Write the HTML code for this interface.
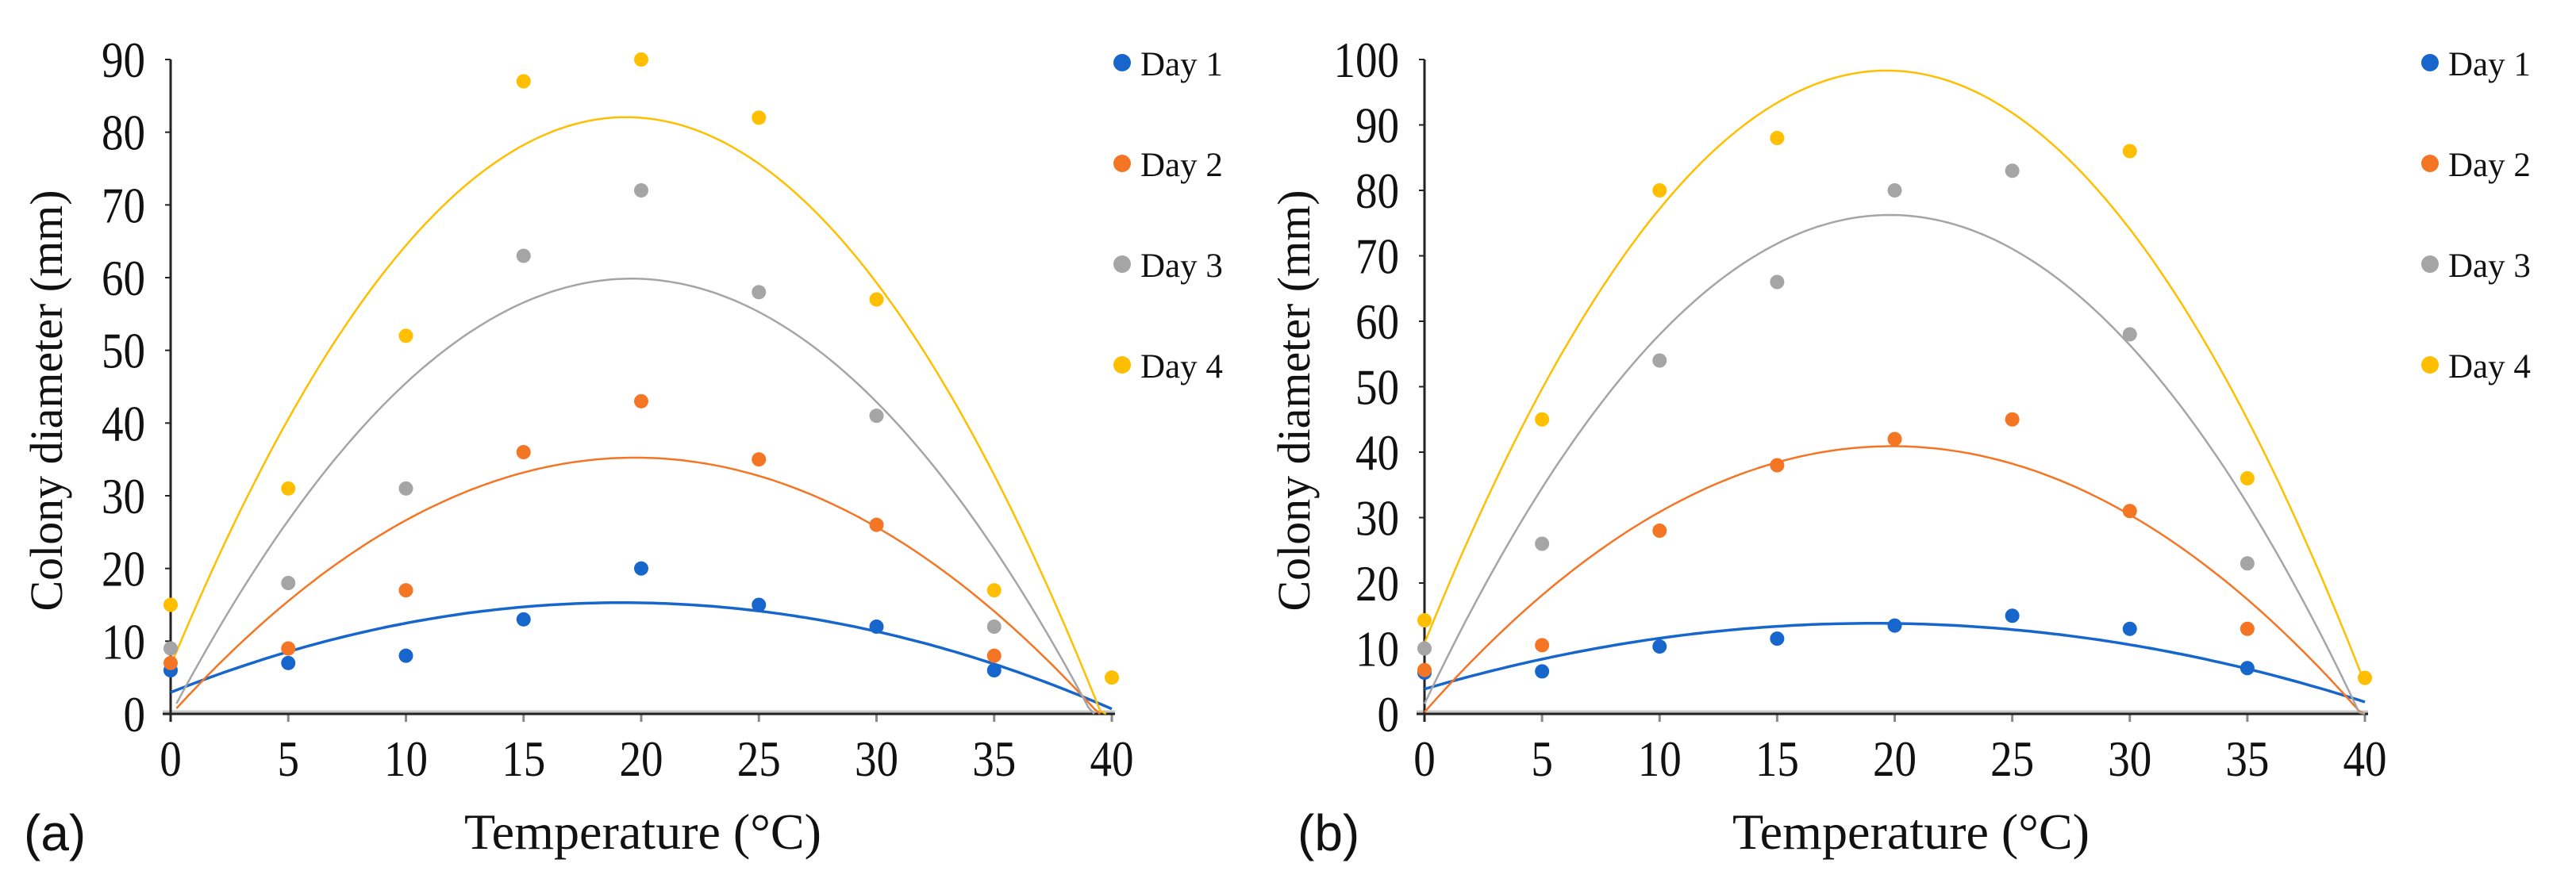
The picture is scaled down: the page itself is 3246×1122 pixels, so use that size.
<!DOCTYPE html>
<html><head><meta charset="utf-8"><style>
html,body{margin:0;padding:0;background:#fff;}
svg{display:block;}
text{font-family:"Liberation Serif",serif;fill:#111;}
</style></head><body>
<svg id="fig" width="3246" height="1122" viewBox="0 0 3246 1122" xmlns="http://www.w3.org/2000/svg"></svg>
<script>
const temps = [0,5,10,15,20,25,30,35,40];
const dayLabels = ["Day 1","Day 2","Day 3","Day 4"];
const dayColors = ["#1766cc","#f47524","#a5a5a5","#ffbf00"];
// Panel (a)
const aDay1 = [6,7,8,13,20,15,12,6,0];
const aDay2 = [7,9,17,36,43,35,26,8,0];
const aDay3 = [9,18,31,63,72,58,41,12,0];
const aDay4 = [15,31,52,87,90,82,57,17,5];
const aYTicks = [0,10,20,30,40,50,60,70,80,90];
// Panel (b)
const bDay1 = [6.3,6.5,10.3,11.5,13.5,15,13,7,0];
const bDay2 = [6.7,10.5,28,38,42,45,31,13,0];
const bDay3 = [10,26,54,66,80,83,58,23,0];
const bDay4 = [14.3,45,80,88,null,null,86,36,5.5];
const bYTicks = [0,10,20,30,40,50,60,70,80,90,100];
const xTicks = [0,5,10,15,20,25,30,35,40];

const NS="http://www.w3.org/2000/svg";
const svg=document.getElementById('fig');
function mk(tag,attrs,parent){const e=document.createElementNS(NS,tag);for(const k in attrs)e.setAttribute(k,attrs[k]);(parent||svg).appendChild(e);return e;}

function fit2(xs,ys){
  let S=[0,0,0,0,0],T=[0,0,0];
  xs.forEach((x,i)=>{const y=ys[i];if(y==null)return;let p=1;for(let k=0;k<5;k++){S[k]+=p;if(k<3)T[k]+=p*y;p*=x;}});
  const M=[[S[0],S[1],S[2],T[0]],[S[1],S[2],S[3],T[1]],[S[2],S[3],S[4],T[2]]];
  for(let i=0;i<3;i++){for(let j=i+1;j<3;j++){const f=M[j][i]/M[i][i];for(let k=i;k<4;k++)M[j][k]-=f*M[i][k];}}
  const c=[0,0,0];for(let i=2;i>=0;i--){let s=M[i][3];for(let k=i+1;k<3;k++)s-=M[i][k]*c[k];c[i]=s/M[i][i];}
  return c;
}

function panel(cfg){
  const g=mk('g',{});
  
  
  const X=v=>cfg.x0+(v/40)*(cfg.x1-cfg.x0);
  const Y=v=>cfg.y0-(v/cfg.ymax)*(cfg.y0-cfg.ytop);
  cfg.yticks.forEach(t=>{
    const tl=mk('text',{x:0,y:0,'text-anchor':'end','font-size':64,transform:`translate(${cfg.x0-32},${Y(t)+22}) scale(0.86,1)`},g);
    tl.textContent=t;
    
    
    const tk=mk('line',{x1:cfg.x0-7,x2:cfg.x0,y1:Y(t),y2:Y(t),stroke:'#222','stroke-width':2},g);
    
    
  });
  xTicks.forEach(t=>{
    const tl=mk('text',{x:0,y:0,'text-anchor':'middle','font-size':64,transform:`translate(${X(t)},978) scale(0.86,1)`},g);
    tl.textContent=t;
    
    
    const tk=mk('line',{x1:X(t),x2:X(t),y1:cfg.y0,y2:cfg.y0+10,stroke:'#888','stroke-width':3},g);
    
    
  });
  const xb=mk('line',{x1:cfg.x0-10,x2:cfg.x1+4,y1:cfg.y0-3,y2:cfg.y0-3,stroke:'#c8c8c8','stroke-width':3},g);
  
  
  const xa=mk('line',{x1:cfg.x0-10,x2:cfg.x1+4,y1:cfg.y0,y2:cfg.y0,stroke:'#222','stroke-width':3},g);
  
  
  const ya=mk('line',{x1:cfg.x0,x2:cfg.x0,y1:cfg.ytop,y2:cfg.y0+10,stroke:'#222','stroke-width':3},g);
  
  
  cfg.series.forEach((s,i)=>{
    const c=fit2(temps,s);
    let d='',started=false;
    for(let x=0;x<=40.001;x+=0.25){
      const y=c[0]+c[1]*x+c[2]*x*x;
      if(y<0){ if(started){d+='L'+X(x).toFixed(1)+','+Y(0).toFixed(1);break;} else continue; }
      d+=(started?'L':'M')+X(x).toFixed(1)+','+Y(y).toFixed(1);started=true;
    }
    const p=mk('path',{d:d,fill:'none',stroke:dayColors[i],'stroke-width':i==0?3.5:2.5},g);
    
    
  });
  cfg.series.forEach((s,i)=>{
    s.forEach((v,j)=>{
      if(v==null||v===0)return;
      const pt=mk('circle',{cx:X(temps[j]),cy:Y(v),r:9,fill:dayColors[i]},g);
      
      
    });
  });
  const legY=[79,206,333,460];
  dayLabels.forEach((l,i)=>{
    const lg=mk('g',{},g);
    
    
    mk('circle',{cx:cfg.legX,cy:legY[i],r:11,fill:dayColors[i]},lg);
    const t=mk('text',{x:cfg.legX+23,y:legY[i]+16,'font-size':43},lg);
    t.textContent=l;
  });
  const yt=mk('text',{x:0,y:0,'text-anchor':'middle','font-size':58,transform:`translate(${cfg.ytx},505) rotate(-90)`,textLength:531,lengthAdjust:'spacingAndGlyphs'},g);
  yt.textContent='Colony diameter (mm)';
  
  
  const xt=mk('text',{x:cfg.xtx,y:1070,'text-anchor':'middle','font-size':64,textLength:450,lengthAdjust:'spacingAndGlyphs'},g);
  xt.textContent='Temperature (°C)';
  
  
  const pl=mk('text',{x:cfg.plx,y:1072,'font-size':64,style:'font-family:"Liberation Sans",sans-serif'},g);
  pl.textContent=cfg.label;
  
  
}
panel({name:'chart-a',x0:215,x1:1401,y0:900,ytop:75,ymax:90,yticks:aYTicks,series:[aDay1,aDay2,aDay3,aDay4],legX:1414,ytx:78,xtx:810,plx:30,label:'(a)'});
panel({name:'chart-b',x0:1795,x1:2980,y0:900,ytop:75,ymax:100,yticks:bYTicks,series:[bDay1,bDay2,bDay3,bDay4],legX:3062,ytx:1650,xtx:2408,plx:1635,label:'(b)'});
</script>
</body></html>
